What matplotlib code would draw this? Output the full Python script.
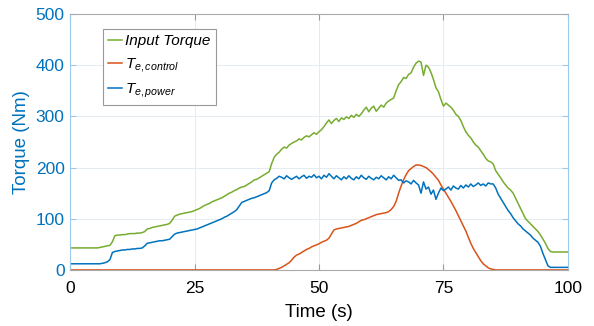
import numpy as np
import matplotlib
matplotlib.use("Agg")
import matplotlib.pyplot as plt

plt.rcParams['font.family'] = ['Liberation Sans', 'DejaVu Sans']
plt.rcParams['mathtext.fontset'] = 'custom'
plt.rcParams['mathtext.it'] = 'Liberation Sans:italic'
plt.rcParams['mathtext.rm'] = 'Liberation Sans'

# sample times (s), 0.5 s spacing
time_s = np.arange(0, 100.5, 0.5)

# input torque (Nm)
input_torque = [
    43, 43, 43, 43, 43, 43, 43, 43, 43, 43,             # 0
    43, 43, 44, 45, 46, 47, 48, 55, 67, 68,             # 5
    68, 69, 69, 70, 71, 71, 71, 72, 72, 73,             # 10
    75, 80, 81, 83, 84, 85, 86, 87, 88, 89,             # 15
    91, 97, 105, 107, 109, 110, 111, 112, 113, 114,     # 20
    116, 118, 120, 123, 126, 128, 130, 133, 135, 137,   # 25
    139, 141, 144, 147, 150, 152, 155, 157, 160, 162,   # 30
    163, 166, 169, 172, 176, 177, 180, 183, 186, 189,   # 35
    192, 208, 220, 226, 230, 236, 240, 238, 244, 247,   # 40
    250, 252, 256, 254, 259, 262, 260, 264, 268, 265,   # 45
    270, 274, 280, 287, 293, 286, 292, 296, 290, 297,   # 50
    294, 299, 296, 302, 298, 304, 300, 305, 312, 318,   # 55
    309, 316, 320, 310, 316, 322, 318, 326, 330, 333,   # 60
    336, 350, 362, 368, 376, 374, 382, 385, 396, 404,   # 65
    408, 406, 380, 400, 396, 386, 372, 356, 348, 333,   # 70
    320, 326, 322, 318, 312, 304, 300, 292, 280, 270,   # 75
    263, 258, 250, 244, 240, 233, 226, 218, 213, 211,   # 80
    207, 194, 187, 180, 172, 166, 160, 156, 150, 140,   # 85
    130, 120, 110, 100, 95, 90, 85, 80, 75, 68,         # 90
    60, 52, 42, 36, 35, 35, 35, 35, 35, 35,             # 95
    35,                                                 # 100
]

# T_e,control (Nm)
te_control = [
    0, 0, 0, 0, 0, 0, 0, 0, 0, 0,                       # 0
    0, 0, 0, 0, 0, 0, 0, 0, 0, 0,                       # 5
    0, 0, 0, 0, 0, 0, 0, 0, 0, 0,                       # 10
    0, 0, 0, 0, 0, 0, 0, 0, 0, 0,                       # 15
    0, 0, 0, 0, 0, 0, 0, 0, 0, 0,                       # 20
    0, 0, 0, 0, 0, 0, 0, 0, 0, 0,                       # 25
    0, 0, 0, 0, 0, 0, 0, 0, 0, 0,                       # 30
    0, 0, 0, 0, 0, 0, 0, 0, 0, 0,                       # 35
    0, 0, 0, 1, 3, 5, 8, 11, 14, 19,                    # 40
    25, 29, 31, 34, 37, 40, 42, 45, 47, 49,             # 45
    51, 54, 56, 58, 62, 70, 78, 80, 81, 82,             # 50
    83, 84, 85, 87, 89, 91, 94, 97, 98, 100,            # 55
    102, 104, 106, 108, 109, 110, 111, 112, 114, 118,   # 60
    124, 134, 150, 164, 176, 186, 194, 198, 202, 205,   # 65
    205, 204, 202, 200, 196, 192, 187, 181, 175, 166,   # 70
    158, 150, 142, 134, 125, 116, 106, 96, 86, 76,      # 75
    64, 52, 42, 34, 26, 18, 12, 8, 4, 2,                # 80
    1, 0, 0, 0, 0, 0, 0, 0, 0, 0,                       # 85
    0, 0, 0, 0, 0, 0, 0, 0, 0, 0,                       # 90
    0, 0, 0, 0, 0, 0, 0, 0, 0, 0,                       # 95
    0,                                                  # 100
]

# T_e,power (Nm)
te_power = [
    12, 12, 12, 12, 12, 12, 12, 12, 12, 12,             # 0
    12, 12, 12, 13, 14, 16, 20, 34, 36, 37,             # 5
    38, 39, 39, 40, 40, 41, 41, 42, 42, 43,             # 10
    47, 52, 53, 54, 55, 56, 57, 57, 58, 59,             # 15
    60, 65, 70, 72, 73, 74, 75, 76, 77, 78,             # 20
    79, 80, 82, 84, 86, 88, 90, 92, 94, 96,             # 25
    98, 100, 103, 105, 108, 111, 114, 118, 125, 132,    # 30
    134, 136, 138, 140, 141, 143, 145, 147, 149, 151,   # 35
    155, 170, 176, 179, 183, 181, 178, 184, 180, 177,   # 40
    180, 183, 178, 182, 185, 179, 183, 181, 186, 180,   # 45
    183, 178, 185, 181, 188, 183, 178, 184, 180, 176,   # 50
    182, 178, 184, 179, 176, 182, 178, 185, 180, 177,   # 55
    183, 179, 176, 181, 178, 184, 180, 176, 182, 178,   # 60
    185, 180, 175, 176, 170, 174, 172, 168, 175, 170,   # 65
    166, 150, 172, 158, 162, 148, 156, 138, 150, 160,   # 70
    155, 158, 162, 156, 164, 160, 158, 165, 160, 166,   # 75
    162, 168, 163, 166, 170, 165, 168, 164, 170, 168,   # 80
    168, 160, 148, 140, 132, 124, 116, 110, 102, 96,    # 85
    90, 86, 80, 76, 72, 68, 62, 58, 54, 46,             # 90
    32, 20, 8, 5, 5, 5, 5, 5, 5, 5,                     # 95
    5,                                                  # 100
]

green = '#77AC30'
red = '#D95319'
blue = '#0072BD'

fig = plt.figure(figsize=(5.94, 3.26), dpi=100)
ax = fig.add_axes([0.118, 0.172, 0.838, 0.785])

ax.plot(time_s, input_torque, color=green, lw=1.1, label='Input Torque')
ax.plot(time_s, te_control, color=red, lw=1.1, label=r'$T_{e,control}$')
ax.plot(time_s, te_power, color=blue, lw=1.1, label=r'$T_{e,power}$')

ax.set_xlim(0, 100)
ax.set_ylim(0, 500)
ax.set_xticks([0, 25, 50, 75, 100])
ax.set_yticks([0, 100, 200, 300, 400, 500])
ax.grid(True, color='#e4ecf2', lw=0.7)
ax.set_axisbelow(True)

ax.tick_params(axis='both', direction='in', length=4, top=True, right=True,
               labelsize=12.5)
ax.tick_params(axis='y', colors='#9cc9ea', labelcolor=blue, pad=4)
ax.tick_params(axis='x', colors='#999999', labelcolor='black', pad=8)

for side in ['left', 'right']:
    ax.spines[side].set_color('#9cc9ea')
for side in ['top', 'bottom']:
    ax.spines[side].set_color('#aaaaaa')

ax.set_xlabel('Time (s)', fontsize=13.5, labelpad=6)
ax.set_ylabel('Torque (Nm)', fontsize=13.5, color=blue, labelpad=4)

leg = ax.legend(loc='upper left', bbox_to_anchor=(0.066, 0.941), borderaxespad=0,
                fontsize=11, handlelength=0.9, handletextpad=0.2,
                labelspacing=0.5, fancybox=False, framealpha=1,
                edgecolor='#999999', borderpad=0.35)
leg.get_frame().set_linewidth(0.8)
for txt in leg.get_texts()[:1]:
    txt.set_fontstyle('italic')

fig.savefig('out.png', dpi=100)
